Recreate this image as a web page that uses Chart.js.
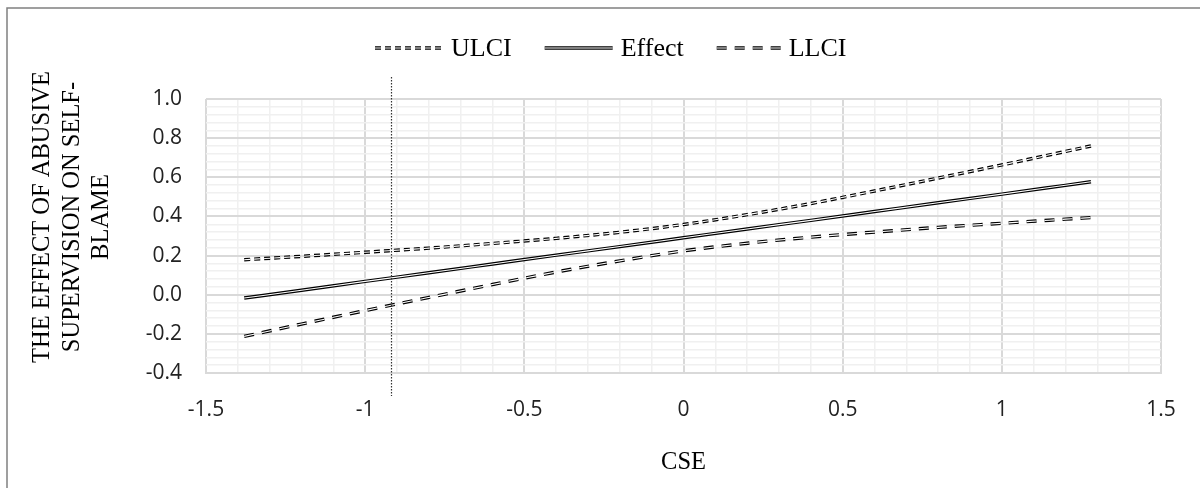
<!DOCTYPE html>
<html>
<head>
<meta charset="utf-8">
<script src="https://cdn.jsdelivr.net/npm/chart.js@4.4.0/dist/chart.umd.min.js"></script>
<style>
  html, body { margin: 0; padding: 0; background: #fff; }
  canvas { display: block; }
</style>
</head>
<body>
<canvas id="chart" width="1200" height="488"></canvas>
<script>
// moderator values (CSE) and the conditional effect with its confidence band
const cse    = [-1.38, -1.2, -1.0, -0.8, -0.6, -0.4, -0.2, 0, 0.2, 0.4, 0.6, 0.8, 1.0, 1.2, 1.28];
const effect = [-0.017, 0.023, 0.068, 0.112, 0.157, 0.202, 0.246, 0.291, 0.336, 0.380, 0.425, 0.470, 0.514, 0.559, 0.577];
const ulci   = [0.179, 0.196, 0.217, 0.238, 0.262, 0.288, 0.319, 0.359, 0.409, 0.466, 0.530, 0.596, 0.663, 0.732, 0.760];
const llci   = [-0.213, -0.150, -0.081, -0.014, 0.052, 0.116, 0.173, 0.224, 0.263, 0.294, 0.320, 0.344, 0.365, 0.386, 0.394];

// Johnson-Neyman marker
const jnPoint = -0.918;

const xMajor = [-1.5, -1, -0.5, 0, 0.5, 1, 1.5];
const xLabels = ['-1.5', '-1', '-0.5', '0', '0.5', '1', '1.5'];
const yMajor = [-0.4, -0.2, 0, 0.2, 0.4, 0.6, 0.8, 1.0];
const yLabels = ['-0.4', '-0.2', '0.0', '0.2', '0.4', '0.6', '0.8', '1.0'];

const yTitle = ['THE EFFECT OF ABUSIVE', 'SUPERVISION ON SELF-', 'BLAME'];
const xTitle = 'CSE';

const SERIF = '"Liberation Serif", "Times New Roman", serif';
const SANS = '"Open Sans", sans-serif';

const series = [
  { label: 'ULCI', values: ulci, dash: [6, 4], sample: 68 },
  { label: 'Effect', values: effect, dash: [], sample: 68 },
  { label: 'LLCI', values: llci, dash: [10, 8], sample: 64 }
];

function points(ys) {
  return cse.map((x, i) => ({ x: x, y: ys[i] }));
}

const datasets = [];
series.forEach(s => {
  // outer black stroke + inner white stroke = Excel "double" line
  datasets.push({ label: s.label, data: points(s.values), borderColor: '#000', borderWidth: 3.4,
    borderDash: s.dash, pointRadius: 0, order: 1, cubicInterpolationMode: 'monotone' });
  datasets.push({ label: s.label + '_in', data: points(s.values), borderColor: '#fff', borderWidth: 1.1,
    borderDash: s.dash, pointRadius: 0, order: 0, cubicInterpolationMode: 'monotone' });
});

function majorIndex(list, v) {
  return list.findIndex(m => Math.abs(m - v) < 1e-6);
}

const frame = {
  id: 'frame',
  beforeDraw(chart) {
    const ctx = chart.ctx;
    ctx.save();
    ctx.fillStyle = '#fff';
    ctx.fillRect(0, 0, chart.width, chart.height);
    ctx.strokeStyle = '#808080';
    ctx.lineWidth = 1.5;
    ctx.beginPath();
    ctx.moveTo(7, chart.height);
    ctx.lineTo(7, 8);
    ctx.lineTo(chart.width, 8);
    ctx.stroke();
    ctx.restore();
  }
};

const extras = {
  id: 'extras',
  afterDatasetsDraw(chart) {
    const ctx = chart.ctx;
    const area = chart.chartArea;
    const xs = chart.scales.x;
    ctx.save();

    // dotted vertical marker
    const px = Math.round(xs.getPixelForValue(jnPoint)) + 0.5;
    ctx.strokeStyle = '#333';
    ctx.lineWidth = 1.2;
    ctx.setLineDash([1.5, 1.5]);
    ctx.beginPath();
    ctx.moveTo(px, area.top - 22);
    ctx.lineTo(px, area.bottom + 23);
    ctx.stroke();
    ctx.setLineDash([]);

    // axis titles
    ctx.fillStyle = '#000';
    ctx.font = '24.5px ' + SERIF;
    ctx.textAlign = 'center';
    ctx.textBaseline = 'middle';
    ctx.fillText(xTitle, (area.left + area.right) / 2, 463);

    ctx.save();
    ctx.translate(43, 217);
    ctx.rotate(-Math.PI / 2);
    yTitle.forEach((line, i) => ctx.fillText(line, 0, i * 29.5));
    ctx.restore();

    // legend
    let x = 375;
    const ly = 48;
    ctx.font = '26px ' + SERIF;
    ctx.textAlign = 'left';
    series.forEach(s => {
      const w = s.sample;
      ctx.setLineDash(s.dash);
      ctx.strokeStyle = '#000';
      ctx.lineWidth = 3.4;
      ctx.beginPath(); ctx.moveTo(x, ly); ctx.lineTo(x + w, ly); ctx.stroke();
      ctx.strokeStyle = '#fff';
      ctx.lineWidth = 1.1;
      ctx.beginPath(); ctx.moveTo(x, ly); ctx.lineTo(x + w, ly); ctx.stroke();
      ctx.setLineDash([]);
      ctx.fillStyle = '#000';
      ctx.fillText(s.label, x + w + 8, ly + 1);
      x += w + 8 + ctx.measureText(s.label).width + 33;
    });
    ctx.restore();
  }
};

new Chart(document.getElementById('chart'), {
  type: 'line',
  data: { datasets: datasets },
  plugins: [frame, extras],
  options: {
    responsive: false,
    animation: false,
    devicePixelRatio: 1,
    layout: { padding: { top: 99, right: 39, bottom: 0, left: 0 } },
    plugins: { legend: { display: false }, tooltip: { enabled: false } },
    scales: {
      x: {
        type: 'linear',
        min: -1.5, max: 1.5,
        afterFit(scale) { scale.height = 115; },
        ticks: {
          stepSize: 0.1, autoSkip: false, maxRotation: 0, padding: 24,
          color: '#222', font: { family: SANS, size: 21 },
          callback: v => { const i = majorIndex(xMajor, v); return i >= 0 ? xLabels[i] : ''; }
        },
        grid: {
          drawTicks: false,
          color: c => majorIndex(xMajor, c.tick.value) >= 0 ? '#d9d9d9' : '#f0f0f0',
          lineWidth: c => majorIndex(xMajor, c.tick.value) >= 0 ? 2 : 1.5
        },
        border: { color: '#d9d9d9', width: 2 }
      },
      y: {
        min: -0.4, max: 1.0,
        afterFit(scale) { scale.width = 206; },
        ticks: {
          stepSize: 0.04, autoSkip: false, padding: 24,
          color: '#222', font: { family: SANS, size: 21 },
          callback: v => { const i = majorIndex(yMajor, v); return i >= 0 ? yLabels[i] : ''; }
        },
        grid: {
          drawTicks: false,
          color: c => majorIndex(yMajor, c.tick.value) >= 0 ? '#d9d9d9' : '#f0f0f0',
          lineWidth: c => majorIndex(yMajor, c.tick.value) >= 0 ? 2 : 1.5
        },
        border: { display: false }
      }
    }
  }
});
</script>
</body>
</html>
